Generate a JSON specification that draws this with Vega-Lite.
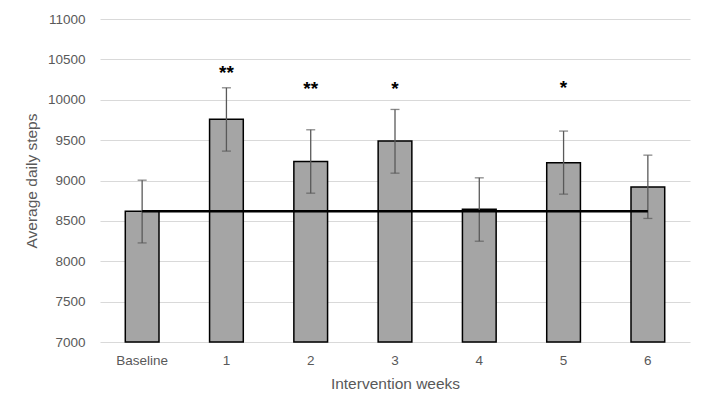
{
  "$schema": "https://vega.github.io/schema/vega-lite/v6.json",
  "width": 590,
  "height": 323,
  "autosize": "none",
  "padding": {"left": 100, "top": 19, "right": 19, "bottom": 76},
  "background": "white",
  "config": {
    "view": {"stroke": null},
    "font": "Liberation Sans",
    "axis": {
      "labelColor": "#595959",
      "titleColor": "#595959",
      "labelFontSize": 13.5,
      "titleFontSize": 15.5,
      "titleFontWeight": "normal",
      "domain": false,
      "ticks": false,
      "gridColor": "#d9d9d9",
      "gridWidth": 1
    }
  },
  "layer": [
    {
      "data": {
        "values": [
          {"week": "Baseline", "steps": 8620, "lo": 8227, "hi": 9004},
          {"week": "1", "steps": 9760, "lo": 9364, "hi": 10148},
          {"week": "2", "steps": 9236, "lo": 8843, "hi": 9628},
          {"week": "3", "steps": 9488, "lo": 9091, "hi": 9880},
          {"week": "4", "steps": 8645, "lo": 8248, "hi": 9033},
          {"week": "5", "steps": 9219, "lo": 8831, "hi": 9612},
          {"week": "6", "steps": 8921, "lo": 8530, "hi": 9314}
        ]
      },
      "layer": [
        {
          "mark": {"type": "bar", "fill": "#a5a5a5", "stroke": "#000000", "strokeWidth": 1.5},
          "encoding": {
            "x": {
              "field": "week",
              "type": "nominal",
              "sort": null,
              "scale": {"paddingInner": 0.6, "paddingOuter": 0.3},
              "axis": {"labelAngle": 0, "labelPadding": 11, "titlePadding": 10, "grid": false},
              "title": "Intervention weeks"
            },
            "y": {
              "field": "steps",
              "type": "quantitative",
              "scale": {"domain": [7000, 11000], "nice": false, "zero": false},
              "axis": {"values": [7000, 7500, 8000, 8500, 9000, 9500, 10000, 10500, 11000], "format": "d", "labelPadding": 15, "titlePadding": 8},
              "title": "Average daily steps"
            },
            "y2": {"datum": 7000}
          }
        },
        {
          "mark": {"type": "errorbar", "color": "#595959", "thickness": 1.3, "ticks": {"size": 9, "color": "#595959", "thickness": 1.3}},
          "encoding": {
            "x": {"field": "week", "type": "nominal", "sort": null},
            "y": {"field": "lo", "type": "quantitative", "title": "Average daily steps"},
            "y2": {"field": "hi"}
          }
        }
      ]
    },
    {
      "data": {"values": [{"from": "Baseline", "to": "6", "level": 8620}]},
      "mark": {"type": "rule", "color": "#000000", "strokeWidth": 2.5},
      "encoding": {
        "x": {"field": "from", "type": "nominal", "sort": null},
        "x2": {"field": "to"},
        "y": {"field": "level", "type": "quantitative", "title": "Average daily steps"}
      }
    },
    {
      "data": {
        "values": [
          {"week": "1", "mark": "**", "pos": 10330},
          {"week": "2", "mark": "**", "pos": 10132},
          {"week": "3", "mark": "*", "pos": 10132},
          {"week": "5", "mark": "*", "pos": 10145}
        ]
      },
      "mark": {"type": "text", "fontSize": 19, "fontWeight": "bold", "color": "#000000", "baseline": "middle"},
      "encoding": {
        "x": {"field": "week", "type": "nominal", "sort": null},
        "y": {"field": "pos", "type": "quantitative", "title": "Average daily steps"},
        "text": {"field": "mark"}
      }
    }
  ]
}
